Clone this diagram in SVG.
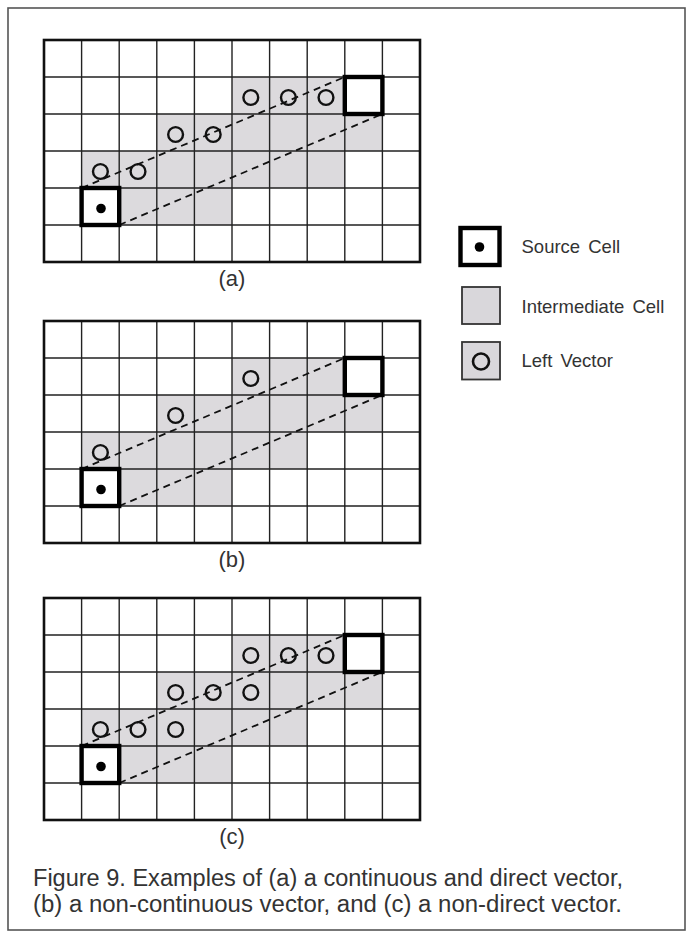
<svg xmlns="http://www.w3.org/2000/svg" width="687" height="936" viewBox="0 0 687 936">
<style>
.bg{fill:#ffffff}
.frame{fill:none;stroke:#555;stroke-width:1.6}
.shade{fill:#dcdadd}
.grid{fill:none;stroke:#222;stroke-width:1.4}
.outer{fill:none;stroke:#111;stroke-width:2.6}
.dash{fill:none;stroke:#111;stroke-width:1.8;stroke-dasharray:7 5}
.vec{fill:none;stroke:#111;stroke-width:2.4}
.cell{fill:#ffffff;stroke:#000;stroke-width:4.4}
.dot{fill:#000}
.lbl{font-family:"Liberation Sans",Arial,sans-serif;font-size:22px;fill:#333;text-anchor:middle}
.leg{font-family:"Liberation Sans",Arial,sans-serif;font-size:18.5px;fill:#333;word-spacing:3px}
.cap{font-family:"Liberation Sans",Arial,sans-serif;font-size:23px;fill:#333}
</style>
<defs>
<path id="gridlines" class="grid" d="M37.6 0V222M75.2 0V222M112.8 0V222M150.4 0V222M188 0V222M225.6 0V222M263.2 0V222M300.8 0V222M338.4 0V222M0 37H376M0 74H376M0 111H376M0 148H376M0 185H376"/>
<g id="shading">
<rect class="shade" x="188" y="37" width="112.8" height="37"/>
<rect class="shade" x="112.8" y="74" width="225.6" height="37"/>
<rect class="shade" x="37.6" y="111" width="225.6" height="37"/>
<rect class="shade" x="75.2" y="148" width="112.8" height="37"/>
</g>
<g id="ends">
<rect class="cell" x="300.8" y="37" width="37.6" height="37"/>
<rect class="cell" x="37.6" y="148" width="37.6" height="37"/>
<circle class="dot" cx="57" cy="168.5" r="4.8"/>
</g>
</defs>
<rect class="bg" x="0" y="0" width="687" height="936"/>
<rect class="frame" x="8" y="8" width="677" height="922"/>

<g id="panel-a" transform="translate(44,40)">
<use href="#shading"/>
<rect class="shade" x="263.2" y="111" width="37.6" height="37"/>
<use href="#gridlines"/>
<rect class="outer" x="0" y="0" width="376" height="222"/>
<g id="connectors-a">
<path class="dash" d="M37.6 148L300.8 37"/>
<path class="dash" d="M75.2 185L338.4 74"/>
</g>
<g id="vectors-a">
<circle class="vec" cx="206.8" cy="57.5" r="7.4"/>
<circle class="vec" cx="244.4" cy="57.5" r="7.4"/>
<circle class="vec" cx="282" cy="57.5" r="7.4"/>
<circle class="vec" cx="131.6" cy="94.5" r="7.4"/>
<circle class="vec" cx="169.2" cy="94.5" r="7.4"/>
<circle class="vec" cx="56.4" cy="131.5" r="7.4"/>
<circle class="vec" cx="94" cy="131.5" r="7.4"/>
</g>
<use href="#ends"/>
<text class="lbl" x="188" y="246">(a)</text>
</g>

<g id="panel-b" transform="translate(44,321)">
<use href="#shading"/>
<use href="#gridlines"/>
<rect class="outer" x="0" y="0" width="376" height="222"/>
<g id="connectors-b">
<path class="dash" d="M37.6 148L300.8 37"/>
<path class="dash" d="M75.2 185L338.4 74"/>
</g>
<g id="vectors-b">
<circle class="vec" cx="206.8" cy="57.5" r="7.4"/>
<circle class="vec" cx="131.6" cy="94.5" r="7.4"/>
<circle class="vec" cx="56.4" cy="131.5" r="7.4"/>
</g>
<use href="#ends"/>
<text class="lbl" x="188" y="246">(b)</text>
</g>

<g id="panel-c" transform="translate(44,598)">
<use href="#shading"/>
<use href="#gridlines"/>
<rect class="outer" x="0" y="0" width="376" height="222"/>
<g id="connectors-c">
<path class="dash" d="M37.6 148L300.8 37"/>
<path class="dash" d="M75.2 185L338.4 74"/>
</g>
<g id="vectors-c">
<circle class="vec" cx="206.8" cy="57.5" r="7.4"/>
<circle class="vec" cx="244.4" cy="57.5" r="7.4"/>
<circle class="vec" cx="282" cy="57.5" r="7.4"/>
<circle class="vec" cx="131.6" cy="94.5" r="7.4"/>
<circle class="vec" cx="169.2" cy="94.5" r="7.4"/>
<circle class="vec" cx="206.8" cy="94.5" r="7.4"/>
<circle class="vec" cx="56.4" cy="131.5" r="7.4"/>
<circle class="vec" cx="94" cy="131.5" r="7.4"/>
<circle class="vec" cx="131.6" cy="131.5" r="7.4"/>
</g>
<use href="#ends"/>
<text class="lbl" x="188" y="246">(c)</text>
</g>

<g id="legend">
<g id="legend-source">
<rect x="460.5" y="228" width="39" height="37" fill="#fff" stroke="#000" stroke-width="4.4"/>
<circle class="dot" cx="479.5" cy="247" r="4.8"/>
<text class="leg" x="521.5" y="252.5">Source Cell</text>
</g>
<g id="legend-intermediate">
<rect x="462" y="287" width="38" height="37" fill="#d9d7db" stroke="#333" stroke-width="1.8"/>
<text class="leg" x="521.5" y="312.5">Intermediate Cell</text>
</g>
<g id="legend-vector">
<rect x="462" y="342" width="38" height="37.5" fill="#d9d7db" stroke="#333" stroke-width="1.8"/>
<circle cx="481" cy="361.5" r="8" fill="none" stroke="#111" stroke-width="2.6"/>
<text class="leg" x="521.5" y="367">Left Vector</text>
</g>
</g>

<g id="caption">
<text class="cap" x="33" y="886" textLength="590" lengthAdjust="spacingAndGlyphs">Figure 9. Examples of (a) a continuous and direct vector,</text>
<text class="cap" x="33" y="912" textLength="589" lengthAdjust="spacingAndGlyphs">(b) a non-continuous vector, and (c) a non-direct vector.</text>
</g>
</svg>
